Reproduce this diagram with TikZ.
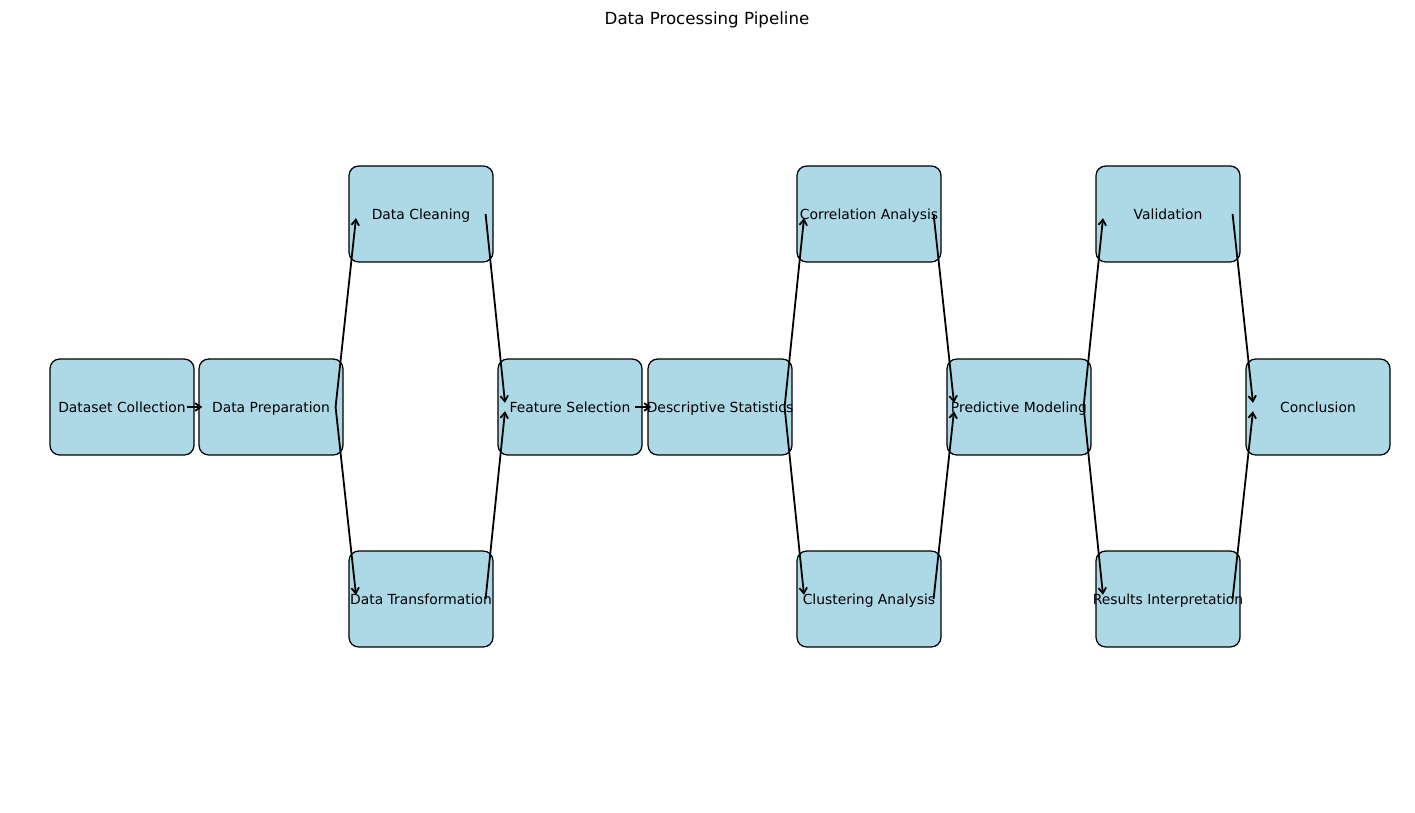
\documentclass[tikz,border=0pt]{standalone}
\usepackage{fontspec}
\setmainfont{DejaVu Sans}
\usepackage{xcolor}
\usetikzlibrary{arrows.meta,positioning}
\definecolor{lightblue}{HTML}{ADD8E6}

\begin{document}
\begin{tikzpicture}[
  x=0.72pt, y=-0.72pt,
  stage/.style={draw, rounded corners=7pt, fill=lightblue, line width=0.9pt,
                minimum width=103.7pt, minimum height=69.1pt, inner sep=0pt,
                text height=8.4pt, text depth=0pt,
                font=\fontsize{10}{12}\selectfont,
                execute at begin node={\hbox to 0pt\bgroup\hss},
                execute at end node={\hss\egroup}},
  arr/.style={-{Straight Barb[length=4pt,width=5.5pt]}, line width=1.3pt, shorten >=3pt},
]
  \useasboundingbox (0,0) rectangle (1415,812);
  \node[font=\fontsize{12}{14}\selectfont] (title) at (707,20) {Data Processing Pipeline};
  % middle row
  \node[stage] (collect) at (122,407) {Dataset Collection};
  \node[stage] (prep)    at (271,407) {Data Preparation};
  \node[stage] (select)  at (570,407) {Feature Selection};
  \node[stage] (stats)   at (720,407) {Descriptive Statistics};
  \node[stage] (model)   at (1019,407) {Predictive Modeling};
  \node[stage] (concl)   at (1318,407) {Conclusion};
  % top and bottom rows
  \node[stage] (clean)   at (421,214) {Data Cleaning};
  \node[stage] (trans)   at (421,599) {Data Transformation};
  \node[stage] (corr)    at (869,214) {Correlation Analysis};
  \node[stage] (clust)   at (869,599) {Clustering Analysis};
  \node[stage] (valid)   at (1168,214) {Validation};
  \node[stage] (interp)  at (1168,599) {Results Interpretation};
  % connectors
  \draw[arr] ([xshift=-5.8pt]collect.east) -- ([xshift=5.8pt]prep.west);
  \draw[arr] ([xshift=-5.8pt]prep.east) -- ([xshift=5.8pt]clean.west);
  \draw[arr] ([xshift=-5.8pt]prep.east) -- ([xshift=5.8pt]trans.west);
  \draw[arr] ([xshift=-5.8pt]clean.east) -- ([xshift=5.8pt]select.west);
  \draw[arr] ([xshift=-5.8pt]trans.east) -- ([xshift=5.8pt]select.west);
  \draw[arr] ([xshift=-5.8pt]select.east) -- ([xshift=5.8pt]stats.west);
  \draw[arr] ([xshift=-5.8pt]stats.east) -- ([xshift=5.8pt]corr.west);
  \draw[arr] ([xshift=-5.8pt]stats.east) -- ([xshift=5.8pt]clust.west);
  \draw[arr] ([xshift=-5.8pt]corr.east) -- ([xshift=5.8pt]model.west);
  \draw[arr] ([xshift=-5.8pt]clust.east) -- ([xshift=5.8pt]model.west);
  \draw[arr] ([xshift=-5.8pt]model.east) -- ([xshift=5.8pt]valid.west);
  \draw[arr] ([xshift=-5.8pt]model.east) -- ([xshift=5.8pt]interp.west);
  \draw[arr] ([xshift=-5.8pt]valid.east) -- ([xshift=5.8pt]concl.west);
  \draw[arr] ([xshift=-5.8pt]interp.east) -- ([xshift=5.8pt]concl.west);
\end{tikzpicture}
\end{document}
